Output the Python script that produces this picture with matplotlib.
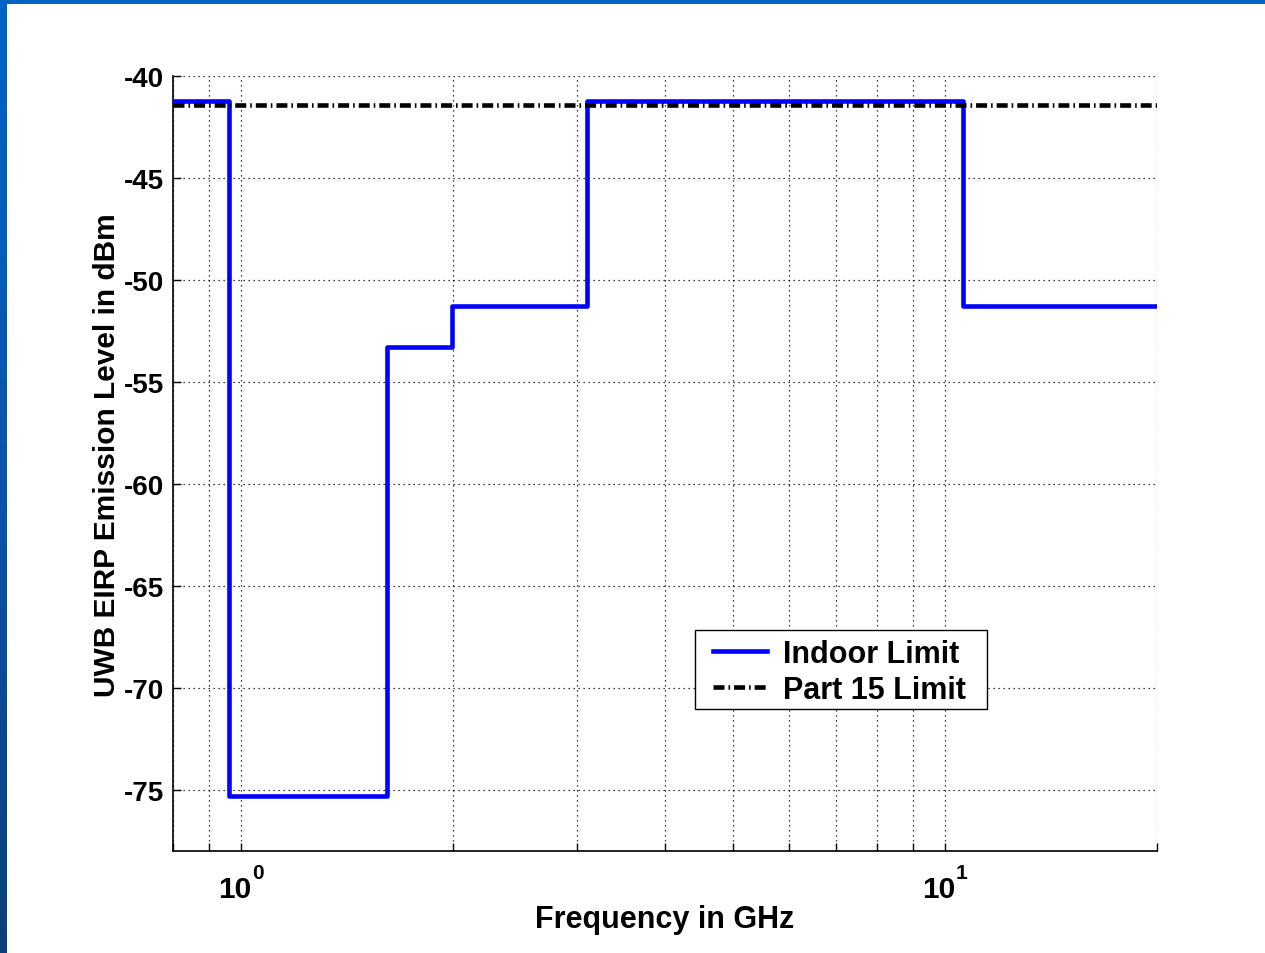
import matplotlib
matplotlib.use("Agg")
import matplotlib.pyplot as plt
import numpy as np
from matplotlib.patches import Rectangle
from matplotlib.colors import LinearSegmentedColormap
from matplotlib.ticker import FixedLocator, NullFormatter

# Data
freq_edges = [0.8, 0.96, 1.61, 1.99, 3.1, 10.6, 20.0]
indoor_levels = [-41.25, -75.3, -53.3, -51.3, -41.25, -51.3, -51.3]
part15_freq = [0.8, 20.0]
part15_level = [-41.4, -41.4]
y_ticks = [-75, -70, -65, -60, -55, -50, -45, -40]
x_major = [1, 10]
x_major_exp = ['0', '1']
x_minor = [0.8, 0.9, 2, 3, 4, 5, 6, 7, 8, 9, 20]

plt.rcParams['font.family'] = ['Liberation Sans', 'DejaVu Sans']
plt.rcParams['font.weight'] = 'bold'
plt.rcParams['axes.unicode_minus'] = False

fig = plt.figure(figsize=(12.65, 9.54), dpi=100)
fig.patch.set_facecolor('white')

# slide frame (blue strips at top and left)
fig.add_artist(Rectangle((0, 1 - 5/954), 1, 5/954, transform=fig.transFigure,
                         facecolor='#0063c4', edgecolor='none', zorder=0))
grad = fig.add_axes([0, 0, 7/1265, 1 - 5/954])
g = np.linspace(0, 1, 200).reshape(-1, 1)
cm = LinearSegmentedColormap.from_list('b', ['#0a3f7a', '#0a55a8', '#0063c4'])
grad.imshow(g, aspect='auto', cmap=cm, origin='lower')
grad.axis('off')

W, H = 1157 - 173, 852 - 77
ax = fig.add_axes([173/1265, 1 - 852/954, W/1265, H/954])
dd = (2.4, 0.87, 0.35, 0.87)
ax.step(freq_edges, indoor_levels, where='post', color='#0000ff', lw=3.3,
        label='Indoor Limit', zorder=3)
ax.plot(part15_freq, part15_level, color='black', lw=3.3,
        dashes=dd, label='Part 15 Limit', zorder=4)

ax.set_xscale('log')
ax.set_xlim(0.8, 20)
ax.set_ylim(-78, -40)
ax.set_yticks(y_ticks)
ax.xaxis.set_major_locator(FixedLocator(x_major))
ax.xaxis.set_minor_locator(FixedLocator(x_minor))
ax.xaxis.set_major_formatter(NullFormatter())
ax.xaxis.set_minor_formatter(NullFormatter())

# x tick labels as 10 with raised exponent
xtrans = ax.get_xaxis_transform()
for v, e in zip(x_major, x_major_exp):
    ax.annotate('10', xy=(v, 0), xycoords=xtrans, xytext=(-6.5, -24),
                textcoords='offset pixels', ha='center', va='top',
                fontsize=21.5, fontweight='bold', annotation_clip=False)
    ax.annotate(e, xy=(v, 0), xycoords=xtrans, xytext=(11, -12),
                textcoords='offset pixels', ha='left', va='top',
                fontsize=15, fontweight='bold', annotation_clip=False)

ax.grid(True, which='both', axis='x', linestyle=(0, (1, 3)), color='black', lw=0.9)
ax.grid(True, which='major', axis='y', linestyle=(0, (1, 3)), color='black', lw=0.9)
for s in ['top', 'right']:
    ax.spines[s].set_visible(False)
for s in ['left', 'bottom']:
    ax.spines[s].set_linewidth(1.2)
ax.tick_params(which='both', direction='in', length=6, width=1.0)
ax.tick_params(axis='y', labelsize=20, pad=6.5)

ax.set_xlabel('Frequency in GHz', fontsize=22, fontweight='bold')
ax.xaxis.set_label_coords(0.5, -(905 - 852) / H)
ax.xaxis.label.set_va('top')
ax.set_ylabel('UWB EIRP Emission Level in dBm', fontsize=21.5, fontweight='bold', labelpad=2)
ax.yaxis.label.set_y((852 - 455) / H)

leg = ax.legend(loc='upper left', bbox_to_anchor=((704 - 173) / W, (852 - 631) / H),
                fontsize=22, frameon=False, handlelength=1.75,
                borderpad=0.3, labelspacing=0.18, handletextpad=0.55, borderaxespad=0)
for t in leg.get_texts():
    t.set_fontweight('bold')
ax.add_patch(Rectangle(((695 - 173) / W, (852 - 710) / H), (987 - 695) / W, (710 - 631) / H,
                       transform=ax.transAxes, facecolor='white', edgecolor='black',
                       lw=1.0, zorder=4.5))
leg.set_zorder(5)

fig.savefig('out.png', dpi=100)
